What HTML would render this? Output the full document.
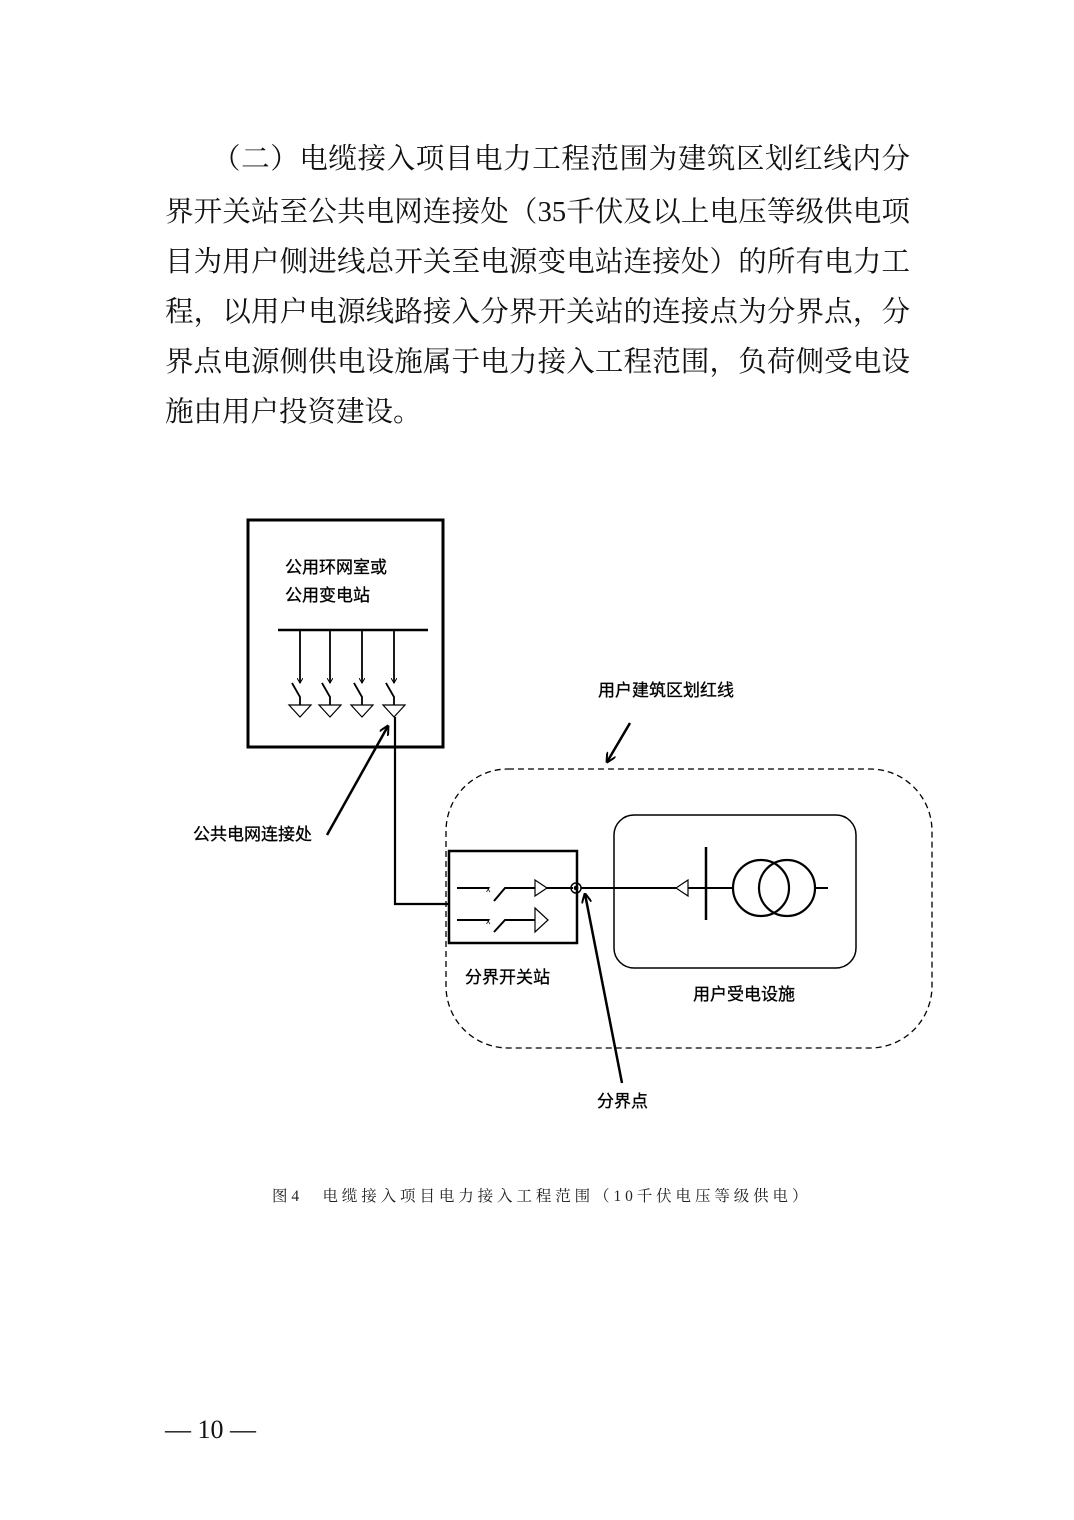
<!DOCTYPE html>
<html><head><meta charset="utf-8"><style>
html,body{margin:0;padding:0;background:#fff;}
body{width:1074px;height:1520px;position:relative;overflow:hidden;font-family:"Liberation Serif","Noto Serif CJK SC","Noto Sans CJK SC",serif;color:#111;}
.l{position:absolute;font-size:28.5px;line-height:34px;height:34px;text-align:justify;text-align-last:justify;white-space:nowrap;}
</style></head><body>
<div class="l" style="left:212px;top:143px;width:698px;">（二）电缆接入项目电力工程范围为建筑区划红线内分</div>
<div class="l" style="left:165px;top:196px;width:745px;">界开关站至公共电网连接处（35千伏及以上电压等级供电项</div>
<div class="l" style="left:165px;top:246px;width:745px;">目为用户侧进线总开关至电源变电站连接处）的所有电力工</div>
<div class="l" style="left:165px;top:296px;width:745px;">程，以用户电源线路接入分界开关站的连接点为分界点，分</div>
<div class="l" style="left:165px;top:346px;width:745px;">界点电源侧供电设施属于电力接入工程范围，负荷侧受电设</div>
<div class="l" style="left:165px;top:396px;width:260px;text-align:left;text-align-last:left;letter-spacing:0px;">施由用户投资建设。</div>

<svg width="1074" height="1520" style="position:absolute;left:0;top:0" xmlns="http://www.w3.org/2000/svg">
<defs><marker id="a" markerWidth="10" markerHeight="10" refX="9" refY="5" orient="auto" markerUnits="userSpaceOnUse"><path d="M0,0 L10,5 L0,10" fill="none" stroke="#000" stroke-width="2"/></marker>
<marker id="s" markerWidth="6" markerHeight="6" refX="5" refY="3" orient="auto" markerUnits="userSpaceOnUse"><path d="M0,0 L5,3 L0,6" fill="none" stroke="#000" stroke-width="1"/></marker></defs>
<g fill="none" stroke="#000">
<rect x="248" y="520" width="195" height="227" stroke-width="3"/>
<line x1="278" y1="630" x2="428" y2="630" stroke-width="2.5"/>
<g stroke-width="1.8">
<line x1="300" y1="630" x2="300" y2="683" marker-end="url(#s)"/><line x1="330" y1="630" x2="330" y2="683" marker-end="url(#s)"/><line x1="362" y1="630" x2="362" y2="683" marker-end="url(#s)"/><line x1="394" y1="630" x2="394" y2="683" marker-end="url(#s)"/>
<path d="M292,683 L300,697 L300,705"/><path d="M322,683 L330,697 L330,705"/><path d="M354,683 L362,697 L362,705"/><path d="M386,683 L394,697 L394,705"/>
</g>
<g stroke-width="1.2">
<path d="M289,705 L311,705 L300,717 Z"/><path d="M319,705 L341,705 L330,717 Z"/><path d="M351,705 L373,705 L362,717 Z"/><path d="M383,705 L405,705 L394,717 Z"/>
</g>
<path d="M395,717 L395,904 L449,904" stroke-width="2.2"/>
<line x1="327" y1="835" x2="388" y2="726" stroke-width="2.5" marker-end="url(#a)"/>
<line x1="630" y1="723" x2="607" y2="762" stroke-width="2.5" marker-end="url(#a)"/>
<rect x="446" y="769" width="486" height="279" rx="62" stroke-width="1.3" stroke-dasharray="6,4"/>
<rect x="449" y="851" width="128" height="92" stroke-width="2.5"/>
<g stroke-width="2">
<path d="M457,888 L489,888 M494,901 L505,888 L535,888 M547,888 L573,888"/>
<path d="M457,920 L489,920 M494,932 L505,920 L535,920"/>
</g>
<text x="486" y="892" font-size="9" fill="#000" stroke="none" font-family="Liberation Sans">x</text>
<text x="486" y="924" font-size="9" fill="#000" stroke="none" font-family="Liberation Sans">x</text>
<path d="M535,880 L547,888 L535,896 Z" stroke-width="1.2"/>
<path d="M535,908 L548,920 L535,932 Z" stroke-width="1.2"/>
<circle cx="576" cy="888" r="5" stroke-width="1.5"/><circle cx="576" cy="888" r="1.8" fill="#000"/>
<rect x="614" y="815" width="242" height="153" rx="20" stroke-width="1.5"/>
<path d="M581,888 L676,888 M688,888 L733,888 M815,888 L828,888" stroke-width="2"/>
<path d="M676,888 L688,880 L688,896 Z" stroke-width="1.2"/>
<line x1="706" y1="847" x2="706" y2="920" stroke-width="2.5"/>
<circle cx="761" cy="888" r="28" stroke-width="2.2"/><circle cx="787" cy="888" r="28" stroke-width="2.2"/>
<line x1="622" y1="1083" x2="585" y2="894" stroke-width="2.5" marker-end="url(#a)"/>
</g>
<g font-family="Liberation Sans,'Noto Sans CJK SC',sans-serif" font-size="17" fill="#000" stroke="#000" stroke-width="0.3">
<text x="285" y="573">公用环网室或</text>
<text x="285" y="601">公用变电站</text>
<text x="598" y="696">用户建筑区划红线</text>
<text x="193" y="840">公共电网连接处</text>
<text x="465" y="983">分界开关站</text>
<text x="693" y="1000">用户受电设施</text>
<text x="597" y="1107">分界点</text>
</g>
<text x="272" y="1201" font-size="15.5" letter-spacing="3.9" fill="#222" font-family="Liberation Serif,'Noto Serif CJK SC',serif">图4　电缆接入项目电力接入工程范围（10千伏电压等级供电）</text>
<text x="165" y="1438" font-size="26" fill="#111" font-family="Liberation Serif,serif" xml:space="preserve">— 10 —</text>
</svg>
</body></html>
